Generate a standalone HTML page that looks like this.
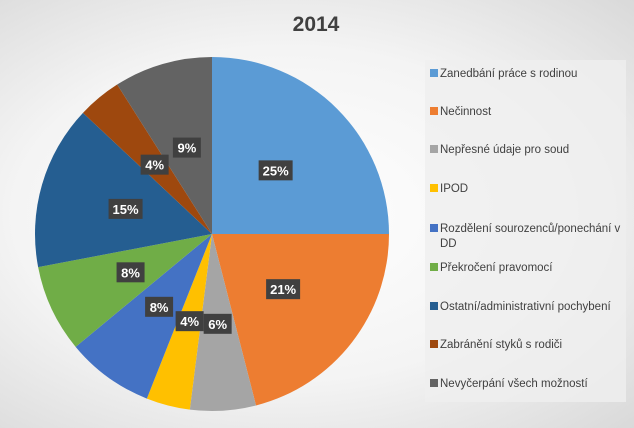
<!DOCTYPE html>
<html><head><meta charset="utf-8"><style>
body{margin:0;width:634px;height:428px;overflow:hidden;font-family:"Liberation Sans",sans-serif;}
#bg{position:absolute;left:0;top:0;width:634px;height:428px;background:radial-gradient(ellipse at 45% 50%,#ffffff 0%,#f4f4f4 55%,#d9d9d9 100%);}
</style></head><body>
<div id="bg"></div>
<svg id="chart" width="634" height="428" style="position:absolute;left:0;top:0">
<text x="316" y="31" text-anchor="middle" font-size="21" font-weight="bold" fill="#404040">2014</text>
<rect x="425" y="60" width="201" height="342" fill="#efefef" opacity="0.8"/>
<g id="slices"></g><g id="labels"></g><g id="legend"></g>
</svg>
<script>
const categories=["Zanedbání práce s rodinou","Nečinnost","Nepřesné údaje pro soud","IPOD","Rozdělení sourozenců/ponechání v DD","Překročení pravomocí","Ostatní/administrativní pochybení","Zabránění styků s rodiči","Nevyčerpání všech možností"];
const values=[25,21,6,4,8,8,15,4,9];
const valueLabels=["25%","21%","6%","4%","8%","8%","15%","4%","9%"];
const colors=["#5b9bd5","#ed7d31","#a5a5a5","#ffc000","#4472c4","#70ad47","#255e91","#9e480e","#636363"];
const NS="http://www.w3.org/2000/svg";
const cx=212,cy=234,r=177,lr=90;
const total=values.reduce((a,b)=>a+b,0);
function pt(a,rad){return [cx+rad*Math.sin(a),cy-rad*Math.cos(a)];}
let acc=0;
const sg=document.getElementById('slices'),lg=document.getElementById('labels'),leg=document.getElementById('legend');
values.forEach((v,i)=>{
  const a0=acc/total*2*Math.PI,a1=(acc+v)/total*2*Math.PI;acc+=v;
  const p0=pt(a0,r),p1=pt(a1,r),large=(a1-a0)>Math.PI?1:0;
  const p=document.createElementNS(NS,'path');
  p.setAttribute('d',`M${cx},${cy}L${p0[0]},${p0[1]}A${r},${r} 0 ${large} 1 ${p1[0]},${p1[1]}Z`);
  p.setAttribute('fill',colors[i]);
  
  
  sg.appendChild(p);
  const m=pt((a0+a1)/2,lr);
  const w=valueLabels[i].length>2?34:28;
  const b=document.createElementNS(NS,'rect');
  b.setAttribute('x',m[0]-w/2);b.setAttribute('y',m[1]-10);b.setAttribute('width',w);b.setAttribute('height',20);
  b.setAttribute('fill','#404040');
  
  
  lg.appendChild(b);
  const t=document.createElementNS(NS,'text');
  t.setAttribute('x',m[0]);t.setAttribute('y',m[1]+5);t.setAttribute('text-anchor','middle');
  t.setAttribute('font-size','13');t.setAttribute('font-weight','bold');t.setAttribute('fill','#fff');
  t.textContent=valueLabels[i];
  
  
  lg.appendChild(t);
});
const ly=[73,111,149,188,228,267,306,344,383];
categories.forEach((c,i)=>{
  const g=document.createElementNS(NS,'g');
  
  
  const s=document.createElementNS(NS,'rect');
  s.setAttribute('x',430);s.setAttribute('y',ly[i]-4);s.setAttribute('width',8);s.setAttribute('height',8);s.setAttribute('fill',colors[i]);
  g.appendChild(s);
  const parts=i===4?["Rozdělení sourozenců/ponechání v","DD"]:[c];
  parts.forEach((txt,k)=>{
    const t=document.createElementNS(NS,'text');
    t.setAttribute('x',440);t.setAttribute('y',ly[i]+4+k*15);t.setAttribute('font-size','11.5');t.setAttribute('fill','#404040');
    t.textContent=txt;g.appendChild(t);
  });
  leg.appendChild(g);
});
</script>
</body></html>
